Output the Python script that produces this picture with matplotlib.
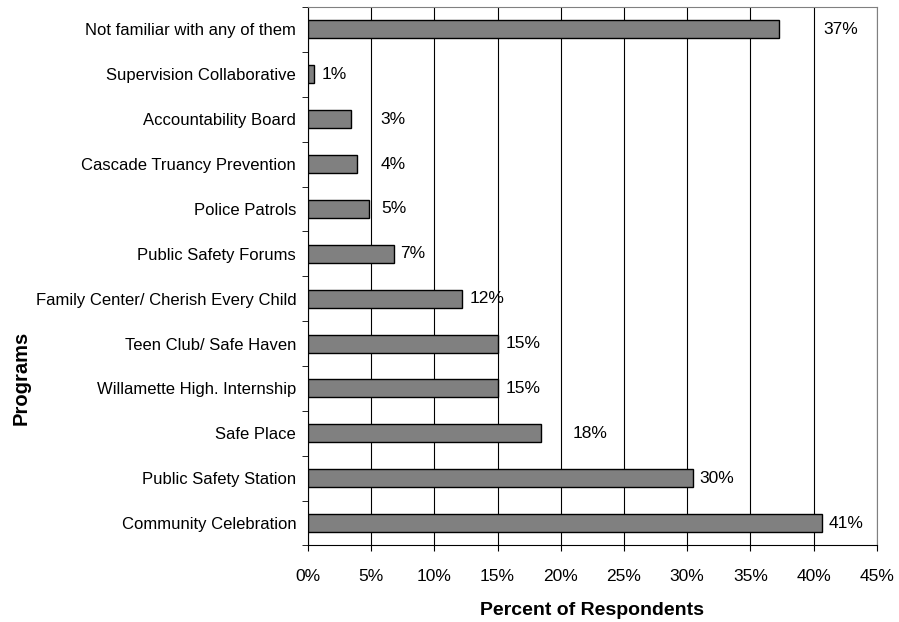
import matplotlib.pyplot as plt
import numpy as np

plt.rcParams['font.family'] = ['Liberation Sans', 'DejaVu Sans']

# Program awareness, listed top to bottom
programs = ['Not familiar with any of them', 'Supervision Collaborative',
            'Accountability Board', 'Cascade Truancy Prevention',
            'Police Patrols', 'Public Safety Forums',
            'Family Center/ Cherish Every Child', 'Teen Club/ Safe Haven',
            'Willamette High. Internship', 'Safe Place',
            'Public Safety Station', 'Community Celebration']
percents = [37.3, 0.5, 3.4, 3.9, 4.8, 6.8, 12.2, 15.0, 15.0, 18.4, 30.5, 40.7]
value_labels = ['37%', '1%', '3%', '4%', '5%', '7%', '12%', '15%', '15%', '18%', '30%', '41%']
# horizontal gap (pixels) between bar end and its label
label_gap = [44, 7, 29, 23, 13, 6, 7, 8, 8, 32, 6, 6]

xticks = np.arange(0, 50, 5)

fig = plt.figure(figsize=(8.99, 6.22), dpi=100)
ax = fig.add_axes([0.3426, 0.1230, 0.6326, 0.8657])

y = np.arange(len(programs))[::-1]
ax.barh(y, percents, height=0.4, color='#808080', edgecolor='black', linewidth=1, zorder=3)

for yi, val, txt, gap in zip(y, percents, value_labels, label_gap):
    ax.annotate(txt, (val, yi), xytext=(gap, 0), textcoords='offset pixels',
                ha='left', va='center', fontsize=12.5, zorder=4)

ax.set_xlim(0, 45)
ax.set_ylim(-0.5, len(programs) - 0.5)
ax.set_xticks(xticks)
ax.set_xticklabels([f'{t}%' for t in xticks], fontsize=12.5)
ax.xaxis.grid(True, color='black', linewidth=0.8)
ax.set_axisbelow(True)

ax.set_yticks(y)
ax.set_yticklabels(programs, fontsize=12)
ax.tick_params(axis='y', length=0, pad=8.5)
ax.set_yticks(np.arange(len(programs) + 1) - 0.5, minor=True)
ax.tick_params(axis='y', which='minor', length=4, direction='out', color='black')
ax.tick_params(axis='x', length=4, direction='out', pad=13)

for side in ['top', 'right']:
    ax.spines[side].set_color('#808080')
for side in ['left', 'bottom']:
    ax.spines[side].set_color('black')

ax.set_xlabel('Percent of Respondents', fontsize=14, fontweight='bold', labelpad=13)
fig.text(0.024, 0.392, 'Programs', rotation=90, ha='center', va='center',
         fontsize=14.5, fontweight='bold')

fig.savefig('out.png', dpi=100)
